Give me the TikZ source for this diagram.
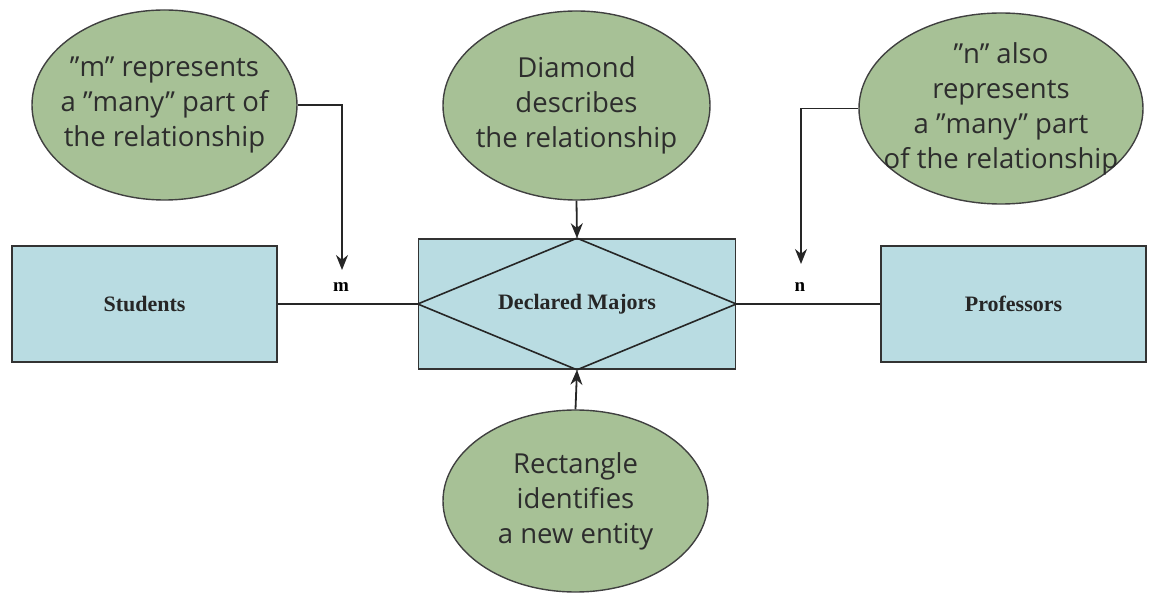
\documentclass[tikz,border=0pt]{standalone}
\usepackage{fontspec}
\setmainfont{Liberation Serif}
\newfontfamily\notefont{Open Sans}
\usepackage{tikz}
\usetikzlibrary{shapes.geometric,arrows.meta}
\definecolor{notegreen}{RGB}{167,193,150}
\definecolor{entblue}{RGB}{185,220,226}
\definecolor{notetext}{RGB}{45,45,45}
\tikzset{
  entity/.style={draw=black!80, line width=1.6pt, fill=entblue, minimum width=265pt, minimum height=116pt,
    font=\fontsize{22}{24}\selectfont\bfseries, text=black!85},
  note/.style={ellipse, draw=black!75, line width=1.4pt, fill=notegreen, inner xsep=-40pt, inner ysep=-30pt,
    font=\notefont\fontsize{27.5}{35}\selectfont, text=notetext, align=center},
  card/.style={font=\fontsize{19}{20}\selectfont\bfseries},
  arr/.style={line width=1.8pt, black!85, -{Stealth[length=15pt,width=12pt]}},
  link/.style={line width=1.6pt, black!85}
}

\begin{document}
\begin{tikzpicture}[x=1pt,y=-1pt]
\useasboundingbox (0,0) rectangle (1149,593);
% entities
\node[entity] (students) at (144.5,304) {Students};
\node[entity, minimum width=317pt, minimum height=130pt] (majors) at (577,304) {Declared Majors};
\node[entity] (profs) at (1013.5,304) {Professors};
\draw[link] (majors.north) -- (majors.east) -- (majors.south) -- (majors.west) -- cycle;
\draw[link] (students.east) -- (majors.west);
\draw[link] (majors.east) -- (profs.west);
% cardinalities
\node[card] (mlab) at (341,287) {m};
\node[card] (nlab) at (800,287) {n};
\coordinate (mtip) at (342,270);
\coordinate (ntip) at (801,264);
% notes
\node[note, minimum width=265pt, minimum height=190pt] (many) at (164.5,105) {”m” represents\\a ”many” part of\\the relationship};
\node[note, minimum width=267pt, minimum height=189pt] (diam) at (576.5,105.5) {Diamond\\describes\\the relationship};
\node[note, minimum width=284pt, minimum height=191pt] (alsomany) at (1001,108.5) {”n” also\\represents\\a ”many” part\\of the relationship};
\node[note, minimum width=265pt, minimum height=182pt] (rect) at (575.5,501) {Rectangle\\identifies\\a new entity};
\draw[arr] (many.east) -| (mtip);
\draw[arr] (alsomany.west) -| (ntip);
\draw[arr] (diam.south) -- (majors.north);
\draw[arr] (rect.north) -- (majors.south);
\end{tikzpicture}
\end{document}
